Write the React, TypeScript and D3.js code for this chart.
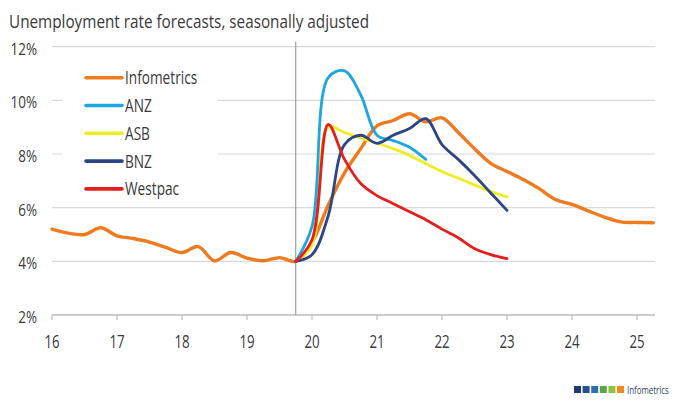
import React from "react";
import * as d3 from "d3";

// Quarterly unemployment rate (%), x is year (20xx) + quarter offset
const infometricsStart = 16.0;
const infometrics = [
  5.2, 5.05, 5.0, 5.25, 4.95, 4.85, 4.72, 4.52, 4.33, 4.55, 4.02, 4.33, 4.12, 4.02, 4.14, 4.0,
  4.7, 6.1, 7.3, 8.2, 9.05, 9.25, 9.5, 9.2, 9.35, 8.8, 8.2, 7.65, 7.35, 7.05, 6.7, 6.3, 6.12, 5.88,
  5.65, 5.47, 5.45, 5.44,
];
const forecastStart = 19.75;
const anz = [4.0, 5.3, 10.85, 11.1, 10.2, 8.7, 8.5, 8.25, 7.8];
const asb = [4.0, 4.6, 9.0, 8.8, 8.6, 8.4, 8.2, 7.95, 7.65, 7.35, 7.1, 6.85, 6.6, 6.4];
const bnz = [4.0, 4.25, 5.7, 8.35, 8.7, 8.4, 8.7, 8.95, 9.32, 8.35, 7.8, 7.2, 6.55, 5.9];
const westpac = [4.0, 4.8, 9.1, 7.8, 6.9, 6.45, 6.15, 5.85, 5.55, 5.2, 4.88, 4.48, 4.25, 4.1];

const seriesNames = ["Infometrics", "ANZ", "ASB", "BNZ", "Westpac"];
const seriesColors = ["#f07a1f", "#1da6df", "#eeee22", "#2d4585", "#e3201f"];
const seriesData = [
  { start: infometricsStart, values: infometrics },
  { start: forecastStart, values: anz },
  { start: forecastStart, values: asb },
  { start: forecastStart, values: bnz },
  { start: forecastStart, values: westpac },
];
// draw order: Infometrics under the bank forecasts
const drawOrder = [0, 2, 1, 3, 4];

const yTicks = [2, 4, 6, 8, 10, 12];
const xTicks = [16, 17, 18, 19, 20, 21, 22, 23, 24, 25];
const forecastDivider = 19.75;
const logoColors = ["#1f3a6e", "#2a4f8f", "#2f6db5", "#5ea447", "#8cc341", "#f28a22"];

const FONT = "'Open Sans', 'Noto Sans', sans-serif";
const TEXT = "#3a3a3a";

const W = 673;
const H = 403;
const plot = { left: 52, right: 655, top: 46.7, bottom: 315 };

export default function App() {
  const x = d3
    .scaleLinear()
    .domain([16, 16 + (plot.right - plot.left) / 65])
    .range([plot.left, plot.right]);
  const y = d3.scaleLinear().domain([2, 12]).range([plot.bottom, plot.top]);

  // smoothed lines (centripetal Catmull-Rom spline)
  const line = d3
    .line<[number, number]>()
    .x((d) => x(d[0]))
    .y((d) => y(d[1]))
    .curve(d3.curveCatmullRom.alpha(0.5));

  const paths = seriesData.map((s) =>
    line(s.values.map((v, i) => [s.start + i * 0.25, v] as [number, number]))
  );

  const legendX = 86;
  const legendY0 = 77.7;
  const legendStep = 27.8;

  return (
    <svg width={W} height={H} style={{ position: "absolute", left: 0, top: 0, background: "#fff" }}>
      <rect x={0} y={0} width={W} height={H} fill="#fff" />
      {/* title */}
      <text
        x={9}
        y={28}
        fontFamily={FONT}
        fontSize={18}
        fill={TEXT}
        textLength={360}
        lengthAdjust="spacingAndGlyphs"
      >
        Unemployment rate forecasts, seasonally adjusted
      </text>

      {/* gridlines */}
      {yTicks
        .filter((t) => t > 2)
        .map((t) => (
          <line key={t} x1={plot.left} x2={plot.right} y1={y(t)} y2={y(t)} stroke="#d9d9d9" strokeWidth={1.2} />
        ))}
      {/* y labels */}
      {yTicks.map((t) => (
        <text
          key={t}
          transform={`translate(37,${y(t) + 8}) scale(0.84,1)`}
          textAnchor="end"
          fontFamily={FONT}
          fontSize={16}
          fill={TEXT}
        >
          {t}%
        </text>
      ))}

      {/* x axis */}
      <line x1={plot.left} x2={plot.right} y1={plot.bottom} y2={plot.bottom} stroke="#bdbdbd" strokeWidth={1.3} />
      {xTicks.map((t) => (
        <g key={t}>
          <line x1={x(t)} x2={x(t)} y1={plot.bottom} y2={plot.bottom + 5} stroke="#bdbdbd" strokeWidth={1.2} />
          <text
            transform={`translate(${x(t)},348) scale(0.74,1)`}
            textAnchor="middle"
            fontFamily={FONT}
            fontSize={18}
            fill={TEXT}
          >
            {t}
          </text>
        </g>
      ))}

      {/* forecast divider */}
      <line
        x1={x(forecastDivider)}
        x2={x(forecastDivider)}
        y1={plot.top - 5}
        y2={plot.bottom}
        stroke="#8c8c8c"
        strokeWidth={1}
      />

      {/* series */}
      {drawOrder.map((i) => (
        <path
          key={seriesNames[i]}
          d={paths[i] || ""}
          fill="none"
          stroke={seriesColors[i]}
          strokeWidth={i === 0 ? 3.4 : 2.8}
          strokeLinejoin="round"
          strokeLinecap="round"
        />
      ))}

      {/* legend */}
      <rect x={62} y={56} width={156} height={146} fill="#fff" />
      {seriesNames.map((n, i) => {
        const ly = legendY0 + i * legendStep;
        return (
          <g key={n}>
            <line x1={legendX} x2={legendX + 36} y1={ly} y2={ly} stroke={seriesColors[i]} strokeWidth={3.6} strokeLinecap="round" />
            <text
              transform={`translate(${legendX + 39},${ly + 6.5}) scale(0.78,1)`}
              fontFamily={FONT}
              fontSize={17.5}
              fill={TEXT}
            >
              {n}
            </text>
          </g>
        );
      })}

      {/* logo */}
      {logoColors.map((c, i) => (
        <rect key={c} x={574 + i * 8.6} y={386} width={7} height={7} fill={c} />
      ))}
      <text
        transform="translate(627,394) scale(0.72,1)"
        fontFamily={FONT}
        fontSize={11}
        fill="#2f3f63"
      >
        Infometrics
      </text>
    </svg>
  );
}
